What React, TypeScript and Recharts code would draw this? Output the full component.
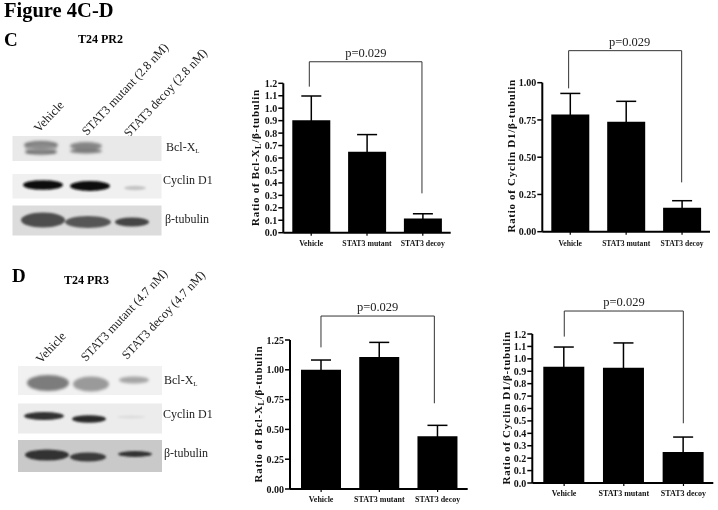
import React from "react";
import { ComposedChart, Bar, ErrorBar, XAxis, YAxis, ReferenceLine, ReferenceDot } from "recharts";

const FONT = "'Liberation Serif', 'Times New Roman', serif";

const categories = ["Vehicle", "STAT3 mutant", "STAT3 decoy"];
const slots = [0.5, 1.5, 2.5];

// Panel C, Bcl-XL
const cBclValues = [0.903, 0.651, 0.115];
const cBclErrors = [0.195, 0.137, 0.037];
const ticksTenths = [0, 0.1, 0.2, 0.3, 0.4, 0.5, 0.6, 0.7, 0.8, 0.9, 1.0, 1.1, 1.2];
// Panel C, Cyclin D1
const cCycValues = [0.787, 0.738, 0.161];
const cCycErrors = [0.141, 0.137, 0.047];
const ticksQuarter100 = [0, 0.25, 0.5, 0.75, 1.0];
// Panel D, Bcl-XL
const dBclValues = [1.001, 1.107, 0.442];
const dBclErrors = [0.081, 0.123, 0.092];
const ticksQuarter125 = [0, 0.25, 0.5, 0.75, 1.0, 1.25];
// Panel D, Cyclin D1
const dCycValues = [0.937, 0.929, 0.25];
const dCycErrors = [0.158, 0.199, 0.12];

const pLabel = "p=0.029";

type PanelProps = {
  values: number[];
  errors: number[];
  ticks: number[];
  maxY: number;
  decimals: number;
  protein: "bcl" | "cyc";
  box: { left: number; top: number; right: number; bottom: number };
  plot: { x0: number; x1: number; y0: number; y1: number };
  padL: number;
  padR: number;
  barSize: number;
  labelX: number;
  labelY: number;
  xFont: number;
  xMargin: number;
  bracket: { xl: number; xr: number; top: number; lEnd: number; rEnd: number; textX: number };
};

function Panel(p: PanelProps) {
  const rows = categories.map((name, i) => ({ name, slot: slots[i], value: p.values[i], err: p.errors[i] }));
  const w = p.box.right - p.box.left;
  const h = p.box.bottom - p.box.top;
  const lx = p.labelX - p.box.left;
  const ly = p.labelY - p.box.top;
  const yLabel = () => (
    <text
      x={lx}
      y={ly}
      transform={`rotate(-90 ${lx} ${ly})`}
      textAnchor="middle"
      fontFamily={FONT}
      fontWeight="bold"
      fontSize={11}
      letterSpacing={0.7}
      fill="#111"
    >
      {p.protein === "bcl" ? (
        <>
          Ratio of Bcl-X
          <tspan fontSize={8} dy={2}>L</tspan>
          <tspan dy={-2}>/β-tubulin</tspan>
        </>
      ) : (
        "Ratio of Cyclin D1/β-tubulin"
      )}
    </text>
  );
  const b = p.bracket;
  return (
    <div style={{ position: "absolute", left: p.box.left, top: p.box.top, width: w, height: h }}>
      <ComposedChart
        width={w}
        height={h}
        data={rows}
        barCategoryGap={0}
        margin={{ left: 0, top: p.plot.y1 - p.box.top, right: p.box.right - p.plot.x1, bottom: 0 }}
      >
        <XAxis
          dataKey="name"
          xAxisId="cat"
          height={p.box.bottom - p.plot.y0}
          padding={{ left: p.padL, right: p.padR }}
          interval={0}
          tickSize={3}
          tickMargin={p.xMargin}
          axisLine={{ stroke: "#000", strokeWidth: 2 }}
          tickLine={{ stroke: "#000", strokeWidth: 1.2 }}
          tick={{ fontFamily: FONT, fontWeight: "bold", fontSize: p.xFont, fill: "#111" }}
        />
        <XAxis xAxisId="bracket" dataKey="slot" orientation="top" height={0} type="number" domain={[0, 3]} allowDataOverflow hide />
        <YAxis
          width={p.plot.x0 - p.box.left}
          type="number"
          domain={[0, p.maxY]}
          ticks={p.ticks}
          interval={0}
          tickSize={5}
          tickMargin={1}
          tickFormatter={(v: number) => v.toFixed(p.decimals)}
          axisLine={{ stroke: "#000", strokeWidth: 2 }}
          tickLine={{ stroke: "#000", strokeWidth: 1.5 }}
          tick={{ fontFamily: FONT, fontWeight: "bold", fontSize: 10, fill: "#111" }}
          label={yLabel}
        />
        <Bar dataKey="value" xAxisId="cat" fill="#000" barSize={p.barSize} isAnimationActive={false}>
          <ErrorBar dataKey="err" direction="y" width={10} stroke="#000" strokeWidth={1.5} isAnimationActive={false} />
        </Bar>
        {[
          [[b.xl, b.lEnd], [b.xl, b.top]],
          [[b.xl, b.top], [b.xr, b.top]],
          [[b.xr, b.top], [b.xr, b.rEnd]],
        ].map((s, i) => (
          <ReferenceLine
            key={i}
            xAxisId="bracket"
            ifOverflow="visible"
            stroke="#333"
            strokeWidth={1}
            segment={[
              { x: s[0][0], y: s[0][1] },
              { x: s[1][0], y: s[1][1] },
            ]}
          />
        ))}
        <ReferenceDot
          xAxisId="bracket"
          x={b.textX}
          y={b.top}
          r={0}
          fill="none"
          stroke="none"
          ifOverflow="visible"
          label={{ value: pLabel, position: "top", offset: 5, fontFamily: FONT, fontSize: 12.5, fill: "#222" }}
        />
      </ComposedChart>
    </div>
  );
}

function T(props: any) {
  return <text fontFamily={FONT} fill="#222" {...props} />;
}

function Rot({ x, y, children }: { x: number; y: number; children: React.ReactNode }) {
  return (
    <T x={x} y={y} fontSize={12.5} transform={`rotate(-47 ${x} ${y})`}>
      {children}
    </T>
  );
}

function Blots() {
  return (
    <svg width={718} height={510} style={{ position: "absolute", left: 0, top: 0 }}>
      <defs>
        <filter id="b1" x="-20%" y="-60%" width="140%" height="220%"><feGaussianBlur stdDeviation="1.4" /></filter>
        <filter id="b2" x="-20%" y="-60%" width="140%" height="220%"><feGaussianBlur stdDeviation="0.9" /></filter>
      </defs>
      <T x={4} y={16.5} fontSize={20.5} fontWeight="bold" fill="#000">Figure 4C-D</T>
      <T x={4} y={45.5} fontSize={19} fontWeight="bold" fill="#000">C</T>
      <T x={78} y={43} fontSize={12} fontWeight="bold" fill="#000">T24 PR2</T>
      <T x={12} y={281.5} fontSize={19} fontWeight="bold" fill="#000">D</T>
      <T x={64} y={284} fontSize={12} fontWeight="bold" fill="#000">T24 PR3</T>

      <Rot x={39} y={133}>Vehicle</Rot>
      <Rot x={87} y={136}>STAT3 mutant (2.8 nM)</Rot>
      <Rot x={129} y={138}>STAT3 decoy (2.8 nM)</Rot>
      <Rot x={41} y={364}>Vehicle</Rot>
      <Rot x={86} y={362}>STAT3 mutant (4.7 nM)</Rot>
      <Rot x={127} y={360}>STAT3 decoy (4.7 nM)</Rot>

      {/* Panel C blots */}
      <rect x={12.5} y={136} width={149} height={25} fill="#e9e9e9" />
      <g filter="url(#b1)">
        <ellipse cx={41} cy={145} rx={17} ry={4} fill="#6e6e6e" />
        <ellipse cx={41} cy={152} rx={16} ry={2.6} fill="#5a5a5a" />
        <ellipse cx={41} cy={148} rx={16} ry={5} fill="#999" opacity={0.7} />
        <ellipse cx={86} cy={146} rx={16} ry={4} fill="#858585" />
        <ellipse cx={86} cy={151} rx={16} ry={2.6} fill="#7c7c7c" />
      </g>
      <rect x={12.5} y={174} width={149} height={24.5} fill="#f0f0f0" />
      <g filter="url(#b2)">
        <ellipse cx={43} cy={185} rx={20} ry={4.8} fill="#0c0c0c" />
        <ellipse cx={90} cy={186} rx={20} ry={5} fill="#0c0c0c" />
        <ellipse cx={135} cy={188} rx={11} ry={2.2} fill="#c4c4c4" />
      </g>
      <rect x={12.5} y={205.5} width={149} height={30} fill="#dcdcdc" />
      <g filter="url(#b2)">
        <ellipse cx={43} cy={220} rx={22} ry={7.5} fill="#4e4e4e" />
        <ellipse cx={88} cy={222} rx={23} ry={6} fill="#565656" />
        <ellipse cx={132} cy={222} rx={17} ry={4.5} fill="#444" />
      </g>

      {/* Panel D blots */}
      <rect x={18} y={366} width={144} height={29} fill="#f1f1f1" />
      <g filter="url(#b1)">
        <ellipse cx={48} cy={383} rx={21} ry={8} fill="#7c7c7c" />
        <ellipse cx={91} cy={384} rx={18} ry={7.5} fill="#9a9a9a" />
        <ellipse cx={134} cy={380} rx={15} ry={3.5} fill="#a5a5a5" />
      </g>
      <rect x={18} y={403.5} width={144} height={30} fill="#ececec" />
      <g filter="url(#b2)">
        <ellipse cx={44} cy={416} rx={20} ry={4} fill="#333" />
        <ellipse cx={89} cy={419} rx={17} ry={3.8} fill="#2c2c2c" />
        <ellipse cx={131} cy={417} rx={14} ry={1.4} fill="#dcdcdc" />
      </g>
      <rect x={18} y={440} width={144} height={32} fill="#c9c9c9" />
      <g filter="url(#b2)">
        <ellipse cx={47} cy={455} rx={22} ry={5.5} fill="#333" />
        <ellipse cx={88} cy={457} rx={18} ry={4.5} fill="#3a3a3a" />
        <ellipse cx={135} cy={454} rx={17} ry={3} fill="#333" />
      </g>

      <T x={166} y={151} fontSize={12}>Bcl-X<tspan fontSize={7} dy={2}>L</tspan></T>
      <T x={163} y={184} fontSize={12}>Cyclin D1</T>
      <T x={165} y={223} fontSize={12}>β-tubulin</T>
      <T x={164} y={384} fontSize={12}>Bcl-X<tspan fontSize={7} dy={2}>L</tspan></T>
      <T x={163} y={418} fontSize={12}>Cyclin D1</T>
      <T x={164} y={457} fontSize={12}>β-tubulin</T>
    </svg>
  );
}

export default function App() {
  return (
    <div style={{ position: "absolute", left: 0, top: 0, width: 718, height: 510, background: "#fff", overflow: "hidden", filter: "blur(0.3px)" }}>
      <Blots />
      <Panel
        values={cBclValues}
        errors={cBclErrors}
        ticks={ticksTenths}
        maxY={1.2}
        decimals={1}
        protein="bcl"
        box={{ left: 245, top: 35, right: 470, bottom: 255 }}
        plot={{ x0: 283.3, x1: 450.7, y0: 232.7, y1: 83.3 }}
        padL={0}
        padR={0}
        barSize={38}
        labelX={259}
        labelY={157.5}
        xFont={7.8}
        xMargin={5}
        bracket={{ xl: 0.466, xr: 2.485, top: 1.373, lEnd: 1.173, rEnd: 0.316, textX: 1.48 }}
      />
      <Panel
        values={cCycValues}
        errors={cCycErrors}
        ticks={ticksQuarter100}
        maxY={1}
        decimals={2}
        protein="cyc"
        box={{ left: 500, top: 30, right: 718, bottom: 255 }}
        plot={{ x0: 542.3, x1: 710, y0: 231.7, y1: 82.7 }}
        padL={0}
        padR={0}
        barSize={38}
        labelX={515}
        labelY={155.8}
        xFont={7.6}
        xMargin={6}
        bracket={{ xl: 0.471, xr: 2.493, top: 1.215, lEnd: 0.962, rEnd: 0.331, textX: 1.562 }}
      />
      <Panel
        values={dBclValues}
        errors={dBclErrors}
        ticks={ticksQuarter125}
        maxY={1.25}
        decimals={2}
        protein="bcl"
        box={{ left: 245, top: 290, right: 475, bottom: 510 }}
        plot={{ x0: 290, x1: 467.7, y0: 489, y1: 340 }}
        padL={2}
        padR={1}
        barSize={40}
        labelX={262}
        labelY={414}
        xFont={8}
        xMargin={4}
        bracket={{ xl: 0.523, xr: 2.437, top: 1.451, lEnd: 1.188, rEnd: 0.719, textX: 1.48 }}
      />
      <Panel
        values={dCycValues}
        errors={dCycErrors}
        ticks={ticksTenths}
        maxY={1.2}
        decimals={1}
        protein="cyc"
        box={{ left: 495, top: 285, right: 718, bottom: 510 }}
        plot={{ x0: 532.3, x1: 713.3, y0: 483, y1: 334 }}
        padL={2}
        padR={0}
        barSize={41}
        labelX={510}
        labelY={407.8}
        xFont={8}
        xMargin={4}
        bracket={{ xl: 0.53, xr: 2.503, top: 1.385, lEnd: 1.179, rEnd: 0.481, textX: 1.519 }}
      />
    </div>
  );
}
